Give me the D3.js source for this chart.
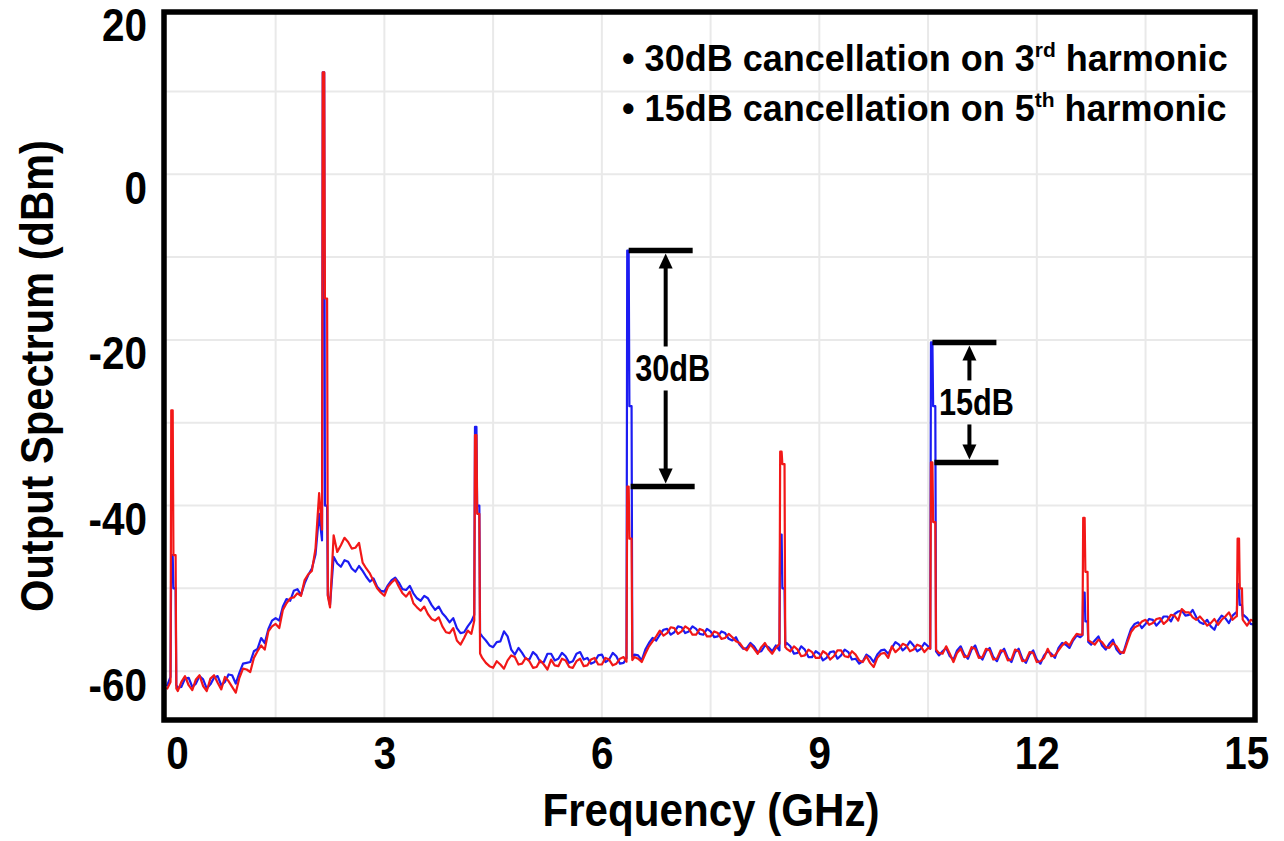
<!DOCTYPE html>
<html>
<head>
<meta charset="utf-8">
<script src="https://cdn.jsdelivr.net/npm/d3@7"></script>
<style>
  body { margin: 0; background: #fff; }
  svg text { font-family: "Liberation Sans", Arial, sans-serif; font-weight: bold; fill: #000; }
</style>
</head>
<body>
<div id="chart"></div>
<script>

//Frequency grid of the noise floor (GHz)
var freqGHz = [0.00,0.05,0.10,0.15,0.20,0.25,0.30,0.35,0.40,0.45,
0.50,0.55,0.60,0.65,0.70,0.75,0.80,0.85,0.90,0.95,
1.00,1.05,1.10,1.15,1.20,1.25,1.30,1.35,1.40,1.45,
1.50,1.55,1.60,1.65,1.70,1.75,1.80,1.85,1.90,1.95,
2.00,2.05,2.10,2.15,2.20,2.25,2.30,2.35,2.40,2.45,
2.50,2.55,2.60,2.65,2.70,2.75,2.80,2.85,2.90,2.95,
3.00,3.05,3.10,3.15,3.20,3.25,3.30,3.35,3.40,3.45,
3.50,3.55,3.60,3.65,3.70,3.75,3.80,3.85,3.90,3.95,
4.00,4.05,4.10,4.15,4.20,4.25,4.30,4.35,4.40,4.45,
4.50,4.55,4.60,4.65,4.70,4.75,4.80,4.85,4.90,4.95,
5.00,5.05,5.10,5.15,5.20,5.25,5.30,5.35,5.40,5.45,
5.50,5.55,5.60,5.65,5.70,5.75,5.80,5.85,5.90,5.95,
6.00,6.05,6.10,6.15,6.20,6.25,6.30,6.35,6.40,6.45,
6.50,6.55,6.60,6.65,6.70,6.75,6.80,6.85,6.90,6.95,
7.00,7.05,7.10,7.15,7.20,7.25,7.30,7.35,7.40,7.45,
7.50,7.55,7.60,7.65,7.70,7.75,7.80,7.85,7.90,7.95,
8.00,8.05,8.10,8.15,8.20,8.25,8.30,8.35,8.40,8.45,
8.50,8.55,8.60,8.65,8.70,8.75,8.80,8.85,8.90,8.95,
9.00,9.05,9.10,9.15,9.20,9.25,9.30,9.35,9.40,9.45,
9.50,9.55,9.60,9.65,9.70,9.75,9.80,9.85,9.90,9.95,
10.00,10.05,10.10,10.15,10.20,10.25,10.30,10.35,10.40,10.45,
10.50,10.55,10.60,10.65,10.70,10.75,10.80,10.85,10.90,10.95,
11.00,11.05,11.10,11.15,11.20,11.25,11.30,11.35,11.40,11.45,
11.50,11.55,11.60,11.65,11.70,11.75,11.80,11.85,11.90,11.95,
12.00,12.05,12.10,12.15,12.20,12.25,12.30,12.35,12.40,12.45,
12.50,12.55,12.60,12.65,12.70,12.75,12.80,12.85,12.90,12.95,
13.00,13.05,13.10,13.15,13.20,13.25,13.30,13.35,13.40,13.45,
13.50,13.55,13.60,13.65,13.70,13.75,13.80,13.85,13.90,13.95,
14.00,14.05,14.10,14.15,14.20,14.25,14.30,14.35,14.40,14.45,
14.50,14.55,14.60,14.65,14.70,14.75,14.80,14.85,14.90,14.95,
15.00];

//Noise floor, without cancellation (blue), dBm
var blueFloor = [-61.8,-60.7,-61.2,-62.0,-61.9,-60.9,-60.8,-61.9,-61.5,-60.6,
-61.0,-62.1,-61.6,-60.8,-60.6,-61.7,-61.3,-60.4,-60.5,-61.5,
-60.2,-59.1,-59.0,-58.9,-57.6,-57.3,-56.0,-56.6,-54.9,-53.9,
-53.6,-53.9,-52.2,-51.3,-51.5,-50.3,-50.1,-50.8,-49.4,-48.4,
-47.6,-45.9,-41.0,-45.0,-50.0,-52.0,-46.2,-47.0,-47.4,-46.6,
-46.8,-47.6,-48.0,-47.3,-47.9,-48.6,-49.2,-48.8,-49.8,-50.3,
-50.4,-49.6,-49.0,-48.7,-49.3,-50.1,-50.2,-49.7,-50.6,-51.2,
-51.5,-50.9,-51.2,-52.0,-52.6,-52.2,-53.0,-53.5,-54.1,-53.6,
-54.8,-55.4,-55.3,-54.6,-54.0,-53.0,-55.2,-55.8,-56.3,-56.9,
-57.1,-56.5,-56.4,-55.2,-55.8,-57.4,-58.0,-57.2,-57.8,-58.5,
-58.6,-57.7,-58.1,-58.9,-58.9,-57.9,-57.9,-58.7,-58.5,-57.8,
-58.2,-59.0,-58.8,-57.9,-57.7,-58.6,-58.4,-59.1,-58.9,-58.1,
-58.0,-58.9,-58.6,-57.8,-58.2,-59.1,-59.0,-58.3,-58.4,-58.0,
-58.1,-58.7,-57.4,-56.6,-56.0,-56.3,-55.6,-55.0,-54.9,-55.6,
-55.3,-54.6,-54.7,-55.4,-55.2,-54.6,-54.9,-55.5,-55.6,-54.9,
-55.2,-55.9,-55.8,-55.2,-55.4,-56.1,-56.3,-55.9,-56.8,-57.3,
-57.2,-56.6,-57.0,-57.7,-57.6,-56.9,-57.1,-57.6,-56.9,-57.5,
-57.2,-56.6,-57.0,-57.9,-57.8,-57.0,-57.4,-58.3,-58.3,-57.6,
-57.9,-58.7,-58.4,-57.7,-57.6,-58.5,-58.1,-57.4,-57.7,-58.6,
-58.5,-59.1,-58.8,-58.0,-58.3,-58.9,-58.0,-57.5,-57.4,-57.9,
-57.2,-56.5,-56.8,-57.5,-57.1,-56.4,-56.9,-57.6,-57.3,-56.6,
-57.0,-57.5,-57.5,-58.1,-57.6,-57.2,-58.2,-58.6,-57.5,-57.0,
-58.0,-58.5,-57.4,-56.9,-58.1,-58.6,-57.6,-57.2,-58.3,-58.8,
-57.8,-57.3,-58.4,-58.9,-57.7,-57.3,-58.5,-59.0,-58.0,-57.5,
-58.6,-59.1,-58.1,-57.6,-57.9,-58.4,-57.2,-56.6,-56.8,-57.2,
-56.3,-55.7,-55.9,-55.5,-56.4,-56.8,-56.3,-55.8,-56.9,-57.4,
-56.7,-56.2,-57.4,-57.9,-57.6,-56.2,-54.9,-54.3,-54.1,-54.8,
-54.3,-53.7,-53.8,-54.5,-54.0,-53.4,-53.4,-54.0,-53.1,-52.8,
-52.7,-53.3,-53.2,-52.6,-53.5,-54.1,-54.3,-53.8,-54.6,-55.0,
-53.9,-53.3,-53.6,-54.2,-53.3,-52.9,-53.8,-53.2,-53.6,-54.3,
-54.4];

//Noise floor, with cancellation (red), dBm
var redFloor = [-62.2,-61.3,-61.6,-62.4,-61.3,-60.6,-61.7,-62.3,-61.0,-60.5,
-61.8,-62.4,-60.9,-60.5,-61.4,-62.2,-60.7,-61.2,-61.9,-62.6,
-60.8,-59.7,-59.8,-60.1,-58.4,-57.6,-56.9,-57.4,-55.2,-54.6,
-54.3,-54.8,-52.6,-51.8,-51.2,-51.1,-50.6,-50.9,-49.0,-48.3,
-47.9,-45.2,-38.5,-44.0,-50.0,-52.3,-43.6,-45.6,-44.8,-43.9,
-44.4,-45.2,-45.1,-44.5,-46.9,-47.6,-48.2,-49.1,-50.0,-50.5,
-50.9,-49.8,-49.3,-48.9,-49.8,-50.6,-51.0,-50.4,-51.8,-52.3,
-52.7,-52.2,-53.1,-53.7,-53.9,-53.5,-54.6,-55.3,-55.4,-54.8,
-56.3,-56.8,-56.0,-55.1,-55.5,-53.5,-57.5,-58.4,-59.0,-59.4,
-59.6,-58.8,-59.2,-59.7,-58.7,-58.1,-58.3,-59.2,-59.1,-58.4,
-58.8,-59.6,-59.5,-58.7,-59.2,-59.8,-58.6,-59.3,-59.4,-58.5,
-58.7,-59.5,-59.6,-58.8,-58.5,-59.4,-59.3,-58.6,-58.4,-59.2,
-59.2,-58.4,-58.6,-59.3,-59.1,-58.5,-58.3,-59.0,-58.9,-58.3,
-58.5,-58.9,-57.9,-57.0,-56.4,-55.8,-55.1,-55.7,-55.4,-54.7,
-54.8,-55.5,-55.2,-54.6,-54.9,-55.6,-55.6,-54.9,-55.1,-55.8,
-55.8,-55.2,-55.4,-56.1,-56.0,-55.5,-55.9,-56.4,-56.6,-57.2,
-57.5,-56.8,-57.3,-57.9,-57.1,-56.6,-57.4,-57.9,-57.2,-56.7,
-56.8,-57.3,-57.6,-57.0,-57.4,-58.2,-58.1,-57.4,-57.7,-58.4,
-58.4,-57.6,-57.9,-58.6,-58.2,-57.5,-57.5,-58.2,-58.3,-57.6,
-58.0,-58.7,-58.9,-58.2,-59.0,-59.5,-58.4,-57.9,-57.8,-58.4,
-57.0,-57.7,-57.3,-56.7,-56.9,-57.6,-57.4,-56.8,-57.0,-57.7,
-57.2,-57.3,-57.3,-57.8,-57.9,-57.0,-57.9,-58.9,-57.8,-57.3,
-58.3,-58.2,-57.1,-57.3,-58.4,-58.3,-57.3,-57.5,-58.6,-58.5,
-57.5,-57.6,-58.7,-58.6,-57.4,-57.6,-58.8,-58.7,-57.7,-57.8,
-58.9,-58.8,-58.4,-57.3,-58.2,-58.1,-57.5,-56.9,-56.5,-56.9,
-56.1,-55.5,-55.6,-55.6,-56.2,-56.5,-56.8,-56.2,-56.5,-57.1,
-57.2,-56.6,-57.0,-57.7,-57.8,-56.5,-55.3,-54.7,-54.5,-54.0,
-53.8,-54.4,-54.2,-53.7,-53.6,-54.3,-53.9,-53.2,-53.3,-53.9,
-52.5,-52.9,-52.9,-53.5,-53.8,-53.4,-53.9,-54.5,-54.2,-53.7,
-54.4,-53.8,-53.4,-52.9,-53.8,-53.4,-53.2,-53.9,-54.5,-53.8,
-54.0];

//Harmonic tones: frequency, peak level and falling-edge level (dBm)
var harmonicFreq = [0.08, 2.17, 4.27, 6.37, 8.48, 10.56, 12.66, 14.79];
var blueTop = [-46, 12.3, -30.5, -9.2, -43.5, -20.3, -50.5, -49.5];
var blueShoulder = [-50, -40, -40, -28, -50, -28, -54, -52];
var redTop = [-28.5, 12.3, -31.5, -37.7, -33.5, -34.8, -41.5, -44];
var redShoulder = [-46, -15, -41, -44, -35, -42, -48, -50];

//Cancellation brackets: harmonic index and label
var bracketHarmonic = [3, 5];
var bracketLabel = ['30dB', '15dB'];

//Axis ticks
var xTicks = [0, 3, 6, 9, 12, 15];
var yTicks = [20, 0, -20, -40, -60];
var xGrid = [1.5, 3, 4.5, 6, 7.5, 9, 10.5, 12, 13.5];
var yGrid = [10, 0, -10, -20, -30, -40, -50, -60];

var width = 1284, height = 841;
var plot = { left: 164, right: 1255, top: 12, bottom: 720 };

var svg = d3.select('#chart')
    .append('svg')
    .attr('width', width)
    .attr('height', height);

var x = d3.scaleLinear().domain([-0.04, 15.01]).range([plot.left, plot.right]);
var y = d3.scaleLinear().domain([-65.9, 19.6]).range([plot.bottom, plot.top]);

//Narrow the bold glyphs a little, the figure uses a condensed face
function squeeze(sel, k) {
  sel.each(function() {
    var w = this.getComputedTextLength();
    d3.select(this).attr('textLength', w * k).attr('lengthAdjust', 'spacingAndGlyphs');
  });
}

svg.append('clipPath').attr('id', 'clip')
    .append('rect')
    .attr('x', plot.left).attr('y', plot.top)
    .attr('width', plot.right - plot.left).attr('height', plot.bottom - plot.top);

//Grid
svg.append('g').selectAll('line')
    .data(xGrid).enter().append('line')
    .attr('x1', x).attr('x2', x)
    .attr('y1', plot.top).attr('y2', plot.bottom)
    .attr('stroke', '#e9e9e9').attr('stroke-width', 2);

svg.append('g').selectAll('line')
    .data(yGrid).enter().append('line')
    .attr('x1', plot.left).attr('x2', plot.right)
    .attr('y1', y).attr('y2', y)
    .attr('stroke', '#e9e9e9').attr('stroke-width', 2);

//Linear read of the floor at a frequency between grid points
function floorAt(arr, f) {
  var i = d3.bisectLeft(freqGHz, f);
  if (i <= 0) return arr[0];
  if (i >= freqGHz.length) return arr[arr.length - 1];
  var t = (f - freqGHz[i - 1]) / (freqGHz[i] - freqGHz[i - 1]);
  return arr[i - 1] + t * (arr[i] - arr[i - 1]);
}

//Merge floor and tones into one trace
function buildTrace(floor, tops, shoulders) {
  var pts = freqGHz.map(function(f, i) { return [f, floor[i]]; })
    .filter(function(p) {
      return !harmonicFreq.some(function(h) { return p[0] > h - 0.035 && p[0] < h + 0.055; });
    });
  harmonicFreq.forEach(function(h, k) {
    pts.push([h - 0.03, floorAt(floor, h - 0.03)],
             [h - 0.02, tops[k]], [h, tops[k]],
             [h + 0.01, shoulders[k]], [h + 0.04, shoulders[k]],
             [h + 0.05, floorAt(floor, h + 0.05)]);
  });
  pts.sort(function(a, b) { return a[0] - b[0]; });
  return pts;
}

var line = d3.line()
    .x(function(d) { return x(d[0]); })
    .y(function(d) { return y(d[1]); });

var traces = svg.append('g').attr('clip-path', 'url(#clip)');

traces.append('path')
    .datum(buildTrace(blueFloor, blueTop, blueShoulder))
    .attr('d', line)
    .attr('fill', 'none')
    .attr('stroke', '#1c1cf2')
    .attr('stroke-width', 2.2)
    .attr('stroke-linejoin', 'round');

traces.append('path')
    .datum(buildTrace(redFloor, redTop, redShoulder))
    .attr('d', line)
    .attr('fill', 'none')
    .attr('stroke', '#f21818')
    .attr('stroke-width', 2.2)
    .attr('stroke-linejoin', 'round');

//Frame
svg.append('rect')
    .attr('x', plot.left).attr('y', plot.top)
    .attr('width', plot.right - plot.left).attr('height', plot.bottom - plot.top)
    .attr('fill', 'none').attr('stroke', '#000').attr('stroke-width', 5.5);

//Axes
var xAxis = svg.append('g')
    .attr('transform', 'translate(0,' + plot.bottom + ')')
    .call(d3.axisBottom(x).tickValues(xTicks).tickSize(0).tickPadding(16)
      .tickFormat(function(d) { return String(d); }));
xAxis.select('.domain').remove();
xAxis.selectAll('text')
    .style('font-size', '47px')
    .attr('dx', function(d) { return d === 0 ? 10 : (d === 15 ? -8 : 0); });
squeeze(xAxis.selectAll('text'), 0.86);

var yAxis = svg.append('g')
    .attr('transform', 'translate(' + plot.left + ',0)')
    .call(d3.axisLeft(y).tickValues(yTicks).tickSize(0).tickPadding(17)
      .tickFormat(function(d) { return String(d); }));
yAxis.select('.domain').remove();
yAxis.selectAll('text')
    .style('font-size', '47px')
    .attr('dy', '0.32em')
    .attr('y', function(d) { return d === 20 ? 17 : 14; });
squeeze(yAxis.selectAll('text'), 0.86);

//Axis titles
svg.append('text')
    .attr('x', 711).attr('y', 826)
    .attr('text-anchor', 'middle')
    .attr('textLength', 337).attr('lengthAdjust', 'spacingAndGlyphs')
    .style('font-size', '47px')
    .text('Frequency (GHz)');

svg.append('text')
    .attr('transform', 'translate(53,376) rotate(-90)')
    .attr('text-anchor', 'middle')
    .attr('textLength', 472).attr('lengthAdjust', 'spacingAndGlyphs')
    .style('font-size', '47px')
    .text('Output Spectrum (dBm)');

//Cancellation brackets
bracketHarmonic.forEach(function(k, j) {
  var x0 = x(harmonicFreq[k]);
  var yTop = y(blueTop[k]);
  var yBot = y(redTop[k]);
  var ax = x0 + 37;
  var ym = (yTop + yBot) / 2;
  var g = svg.append('g');
  g.append('line').attr('x1', x0).attr('x2', x0 + 64).attr('y1', yTop).attr('y2', yTop)
    .attr('stroke', '#000').attr('stroke-width', 5.5);
  g.append('line').attr('x1', x0 + 2).attr('x2', x0 + 66).attr('y1', yBot).attr('y2', yBot)
    .attr('stroke', '#000').attr('stroke-width', 5.5);
  g.append('line').attr('x1', ax).attr('x2', ax).attr('y1', yTop + 14).attr('y2', ym - 22)
    .attr('stroke', '#000').attr('stroke-width', 4);
  g.append('line').attr('x1', ax).attr('x2', ax).attr('y1', ym + 22).attr('y2', yBot - 14)
    .attr('stroke', '#000').attr('stroke-width', 4);
  g.append('path')
    .attr('d', 'M' + ax + ',' + (yTop + 3) + 'l-7,15h14z')
    .attr('fill', '#000');
  g.append('path')
    .attr('d', 'M' + ax + ',' + (yBot - 3) + 'l-7,-15h14z')
    .attr('fill', '#000');
  g.append('text')
    .attr('x', ax + 7).attr('y', ym)
    .attr('dy', '0.36em')
    .attr('text-anchor', 'middle')
    .attr('textLength', 75).attr('lengthAdjust', 'spacingAndGlyphs')
    .style('font-size', '36px')
    .text(bracketLabel[j]);
});

//Notes in the top right corner
var notes = [
  ['\u2022 30dB cancellation on 3', 'rd', ' harmonic'],
  ['\u2022 15dB cancellation on 5', 'th', ' harmonic']
];
notes.forEach(function(n, i) {
  var t = svg.append('text')
      .attr('x', 622).attr('y', 71 + i * 50)
      .style('font-size', '36px');
  t.append('tspan').text(n[0]);
  t.append('tspan').attr('dy', -14).style('font-size', '21px').text(n[1]);
  t.append('tspan').attr('dy', 14).text(n[2]);
});

</script>
</body>
</html>
